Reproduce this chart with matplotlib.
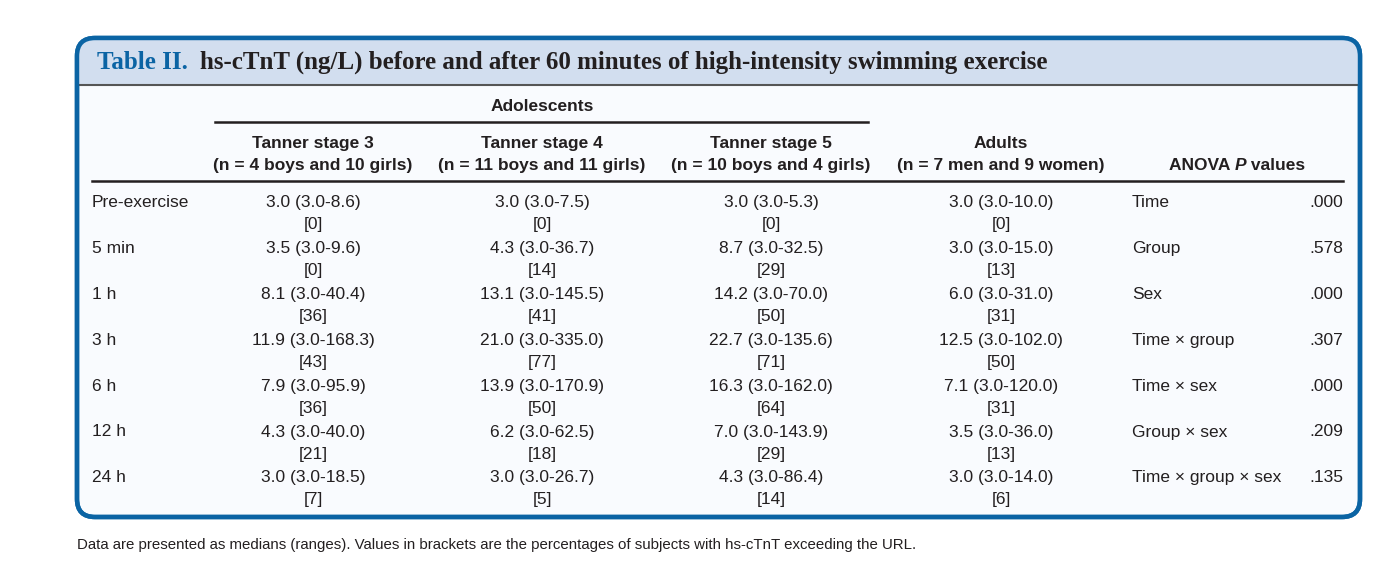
import matplotlib.pyplot as plt
from matplotlib import font_manager
from matplotlib.patches import FancyBboxPatch, Rectangle

# table content
title_tag = "Table II."
title_text = "hs-cTnT (ng/L) before and after 60 minutes of high-intensity swimming exercise"
group_header = "Adolescents"
col_titles = ["Tanner stage 3", "Tanner stage 4", "Tanner stage 5", "Adults"]
col_subtitles = ["(n = 4 boys and 10 girls)", "(n = 11 boys and 11 girls)",
                 "(n = 10 boys and 4 girls)", "(n = 7 men and 9 women)"]
row_labels = ["Pre-exercise", "5 min", "1 h", "3 h", "6 h", "12 h", "24 h"]

tanner3 = ["3.0 (3.0-8.6)", "3.5 (3.0-9.6)", "8.1 (3.0-40.4)", "11.9 (3.0-168.3)",
           "7.9 (3.0-95.9)", "4.3 (3.0-40.0)", "3.0 (3.0-18.5)"]
tanner3_pct = [0, 0, 36, 43, 36, 21, 7]
tanner4 = ["3.0 (3.0-7.5)", "4.3 (3.0-36.7)", "13.1 (3.0-145.5)", "21.0 (3.0-335.0)",
           "13.9 (3.0-170.9)", "6.2 (3.0-62.5)", "3.0 (3.0-26.7)"]
tanner4_pct = [0, 14, 41, 77, 50, 18, 5]
tanner5 = ["3.0 (3.0-5.3)", "8.7 (3.0-32.5)", "14.2 (3.0-70.0)", "22.7 (3.0-135.6)",
           "16.3 (3.0-162.0)", "7.0 (3.0-143.9)", "4.3 (3.0-86.4)"]
tanner5_pct = [0, 29, 50, 71, 64, 29, 14]
adults = ["3.0 (3.0-10.0)", "3.0 (3.0-15.0)", "6.0 (3.0-31.0)", "12.5 (3.0-102.0)",
          "7.1 (3.0-120.0)", "3.5 (3.0-36.0)", "3.0 (3.0-14.0)"]
adults_pct = [0, 13, 31, 50, 31, 13, 6]

anova_terms = ["Time", "Group", "Sex", "Time \u00d7 group", "Time \u00d7 sex",
               "Group \u00d7 sex", "Time \u00d7 group \u00d7 sex"]
anova_p = [".000", ".578", ".000", ".307", ".000", ".209", ".135"]

footnote = ("Data are presented as medians (ranges). Values in brackets are the "
            "percentages of subjects with hs-cTnT exceeding the URL.")

installed = {f.name for f in font_manager.fontManager.ttflist}
if "Liberation Sans Narrow" in installed:
    sans = ["Liberation Sans Narrow", "DejaVu Sans"]
else:
    sans = ["Liberation Sans", "DejaVu Sans"]
serif = ["Liberation Serif", "DejaVu Serif"]
blue = "#0b64a4"
band = "#d2deef"
ink = "#231f20"

fig = plt.figure(figsize=(13.99, 5.68), dpi=100)
ax = fig.add_axes([0, 0, 1, 1])
ax.set_xlim(0, 1399)
ax.set_ylim(568, 0)
ax.axis("off")
renderer = fig.canvas.get_renderer()


def fit_size(txt, family, weight, target):
    t = ax.text(0, 0, txt, family=family, weight=weight, fontsize=12)
    w = t.get_window_extent(renderer).width
    t.remove()
    return 12 * target / w


fs = fit_size("3.0 (3.0-8.6)", sans, "normal", 94)
fs_b = fit_size("(n = 11 boys and 11 girls)", sans, "bold", 205)
fs_title = fit_size(title_tag + "  " + title_text, serif, "bold", 950)
fs_note = fit_size(footnote, sans, "normal", 838)

# frame
box = FancyBboxPatch((77, 38), 1283, 479, boxstyle="round,pad=0,rounding_size=18",
                     facecolor="#f9fbfe", edgecolor=blue, linewidth=3.2, zorder=1)
ax.add_patch(box)
head = Rectangle((70, 30), 1300, 55, facecolor=band, edgecolor="none", zorder=1.5)
ax.add_patch(head)
head.set_clip_path(box)
ax.plot([78, 1359], [85, 85], color="#555555", lw=1.5, zorder=2)
ax.add_patch(FancyBboxPatch((77, 38), 1283, 479, boxstyle="round,pad=0,rounding_size=18",
                            facecolor="none", edgecolor=blue, linewidth=3.2, zorder=3))

# title
t1 = ax.text(97, 69, title_tag + "  ", family=serif, weight="bold", fontsize=fs_title,
             color=blue, va="baseline", ha="left")
w1 = t1.get_window_extent(renderer).width
ax.text(97 + w1, 69, title_text, family=serif, weight="bold", fontsize=fs_title,
        color=ink, va="baseline", ha="left")

col_x = [313, 542, 771, 1001]

# column headers
ax.text(542, 111, group_header, family=sans, weight="bold", fontsize=fs_b,
        color=ink, ha="center", va="baseline")
ax.plot([215, 868], [122, 122], color=ink, lw=1.8)
for x, t, s in zip(col_x, col_titles, col_subtitles):
    ax.text(x, 148, t, family=sans, weight="bold", fontsize=fs_b, color=ink,
            ha="center", va="baseline")
    ax.text(x, 170, s, family=sans, weight="bold", fontsize=fs_b, color=ink,
            ha="center", va="baseline")

# ANOVA header with italic P
parts = [("ANOVA ", "normal"), ("P", "italic"), (" values", "normal")]
widths = []
tmp = []
for txt, st in parts:
    tt = ax.text(0, 170, txt, family=sans, weight="bold", style=st, fontsize=fs_b,
                 color=ink, ha="left", va="baseline")
    widths.append(tt.get_window_extent(renderer).width)
    tmp.append(tt)
xpos = 1237 - sum(widths) / 2
for tt, w in zip(tmp, widths):
    tt.set_x(xpos)
    xpos += w

ax.plot([92, 1343], [181, 181], color=ink, lw=1.8)

# body
cols = [(tanner3, tanner3_pct), (tanner4, tanner4_pct),
        (tanner5, tanner5_pct), (adults, adults_pct)]
for i, lab in enumerate(row_labels):
    y = 207 + i * 45.9
    ax.text(92, y, lab, family=sans, fontsize=fs, color=ink, ha="left", va="baseline")
    for x, (vals, pct) in zip(col_x, cols):
        ax.text(x, y, vals[i], family=sans, fontsize=fs, color=ink,
                ha="center", va="baseline")
        ax.text(x, y + 22, "[%d]" % pct[i], family=sans, fontsize=fs, color=ink,
                ha="center", va="baseline")
    ax.text(1132, y, anova_terms[i], family=sans, fontsize=fs, color=ink,
            ha="left", va="baseline")
    ax.text(1343, y, anova_p[i], family=sans, fontsize=fs, color=ink,
            ha="right", va="baseline")

ax.text(77, 549, footnote, family=sans, fontsize=fs_note, color=ink,
        ha="left", va="baseline")

fig.savefig("out.png", dpi=100, facecolor="white")
